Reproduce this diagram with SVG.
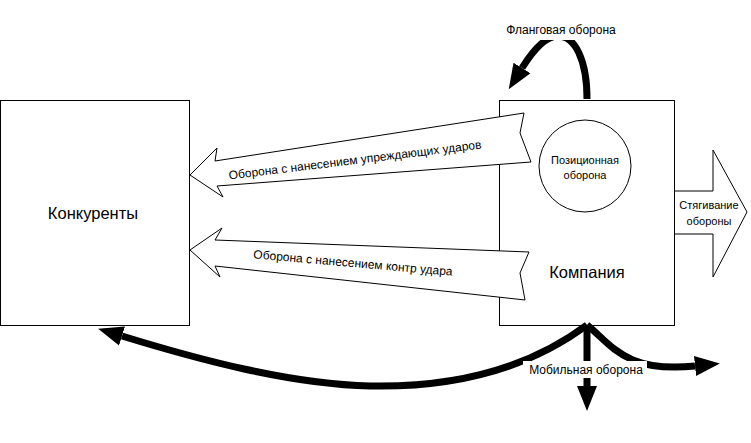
<svg xmlns="http://www.w3.org/2000/svg" width="751" height="443" viewBox="0 0 751 443">
<style>
text{font-family:"Liberation Sans",Arial,sans-serif;fill:#000}
.box{fill:#fff;stroke:#000;stroke-width:1}
.big{fill:#fff;stroke:#000;stroke-width:1}
.thick{fill:none;stroke:#000;stroke-width:7}
.lbl{font-size:12px}
.small{font-size:11px}
.node{font-size:16.5px}
</style>
<defs>
<marker id="head" markerUnits="userSpaceOnUse" markerWidth="30" markerHeight="24" refX="0" refY="10" orient="auto" viewBox="0 0 30 20">
<path d="M0,0 L25,10 L0,20 z" fill="#000"/>
</marker>
</defs>
<rect width="751" height="443" fill="#fff"/>
<g id="konkurenty">
<rect class="box" x="0.5" y="100.5" width="189" height="225"/>
<text class="node" x="93" y="219" text-anchor="middle">Конкуренты</text>
</g>
<g id="kompaniya">
<rect class="box" x="499.5" y="100.5" width="175" height="225"/>
<text class="node" x="587" y="278" text-anchor="middle">Компания</text>
</g>
<g id="connectors">
<path class="thick" d="M587,99 C587,60 575,36 558,36 C545,36 532,52 522,68" marker-end="url(#head)"/>
<path class="thick" d="M587,325 C540,360 470,388 370,386 C290,384 200,360 122,336" marker-end="url(#head)"/>
<path class="thick" d="M587,325 L587,386" marker-end="url(#head)"/>
<path class="thick" d="M587,325 C612,345 625,373 695,366" marker-end="url(#head)"/>
</g>
<g id="flangovaya">
<rect x="500" y="20" width="122" height="20" fill="#fff"/>
<text class="lbl" x="561" y="34" text-anchor="middle">Фланговая оборона</text>
</g>
<g id="mobilnaya">
<rect x="523" y="361" width="124" height="17" fill="#fff"/>
<text class="lbl" x="586" y="374" text-anchor="middle">Мобильная оборона</text>
</g>
<g id="uprezhdayushchie">
<polygon class="big" points="190,175 217,148 215,161 524,113 520,133 531,162 217,186 223,197"/>
<text class="lbl" x="355" y="164" text-anchor="middle" transform="rotate(-7 355 160)">Оборона с нанесением упреждающих ударов</text>
</g>
<g id="kontr">
<polygon class="big" points="190,250 222,228 215,240 529,252 520,273 525,300 215,266 220,277"/>
<text class="lbl" x="353" y="267" text-anchor="middle" transform="rotate(5 353 263)">Оборона с нанесением контр удара</text>
</g>
<g id="styagivanie">
<polygon class="big" points="674.5,191 713,191 713,150 747,212 713,277 713,234 674.5,234"/>
<text class="small" x="709" y="209" text-anchor="middle">Стягивание</text>
<text class="small" x="709" y="225" text-anchor="middle">обороны</text>
</g>
<g id="pozicionnaya">
<circle cx="585" cy="166" r="46" fill="#fff" stroke="#000" stroke-width="1"/>
<text class="small" x="585" y="164" text-anchor="middle">Позиционная</text>
<text class="small" x="585" y="179" text-anchor="middle">оборона</text>
</g>
</svg>
